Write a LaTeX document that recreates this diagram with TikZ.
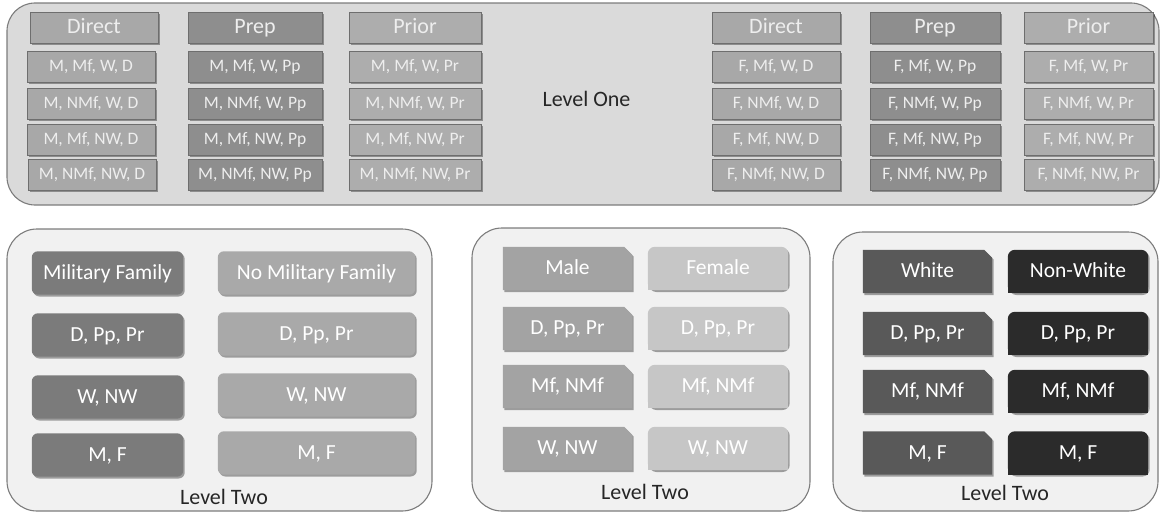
\documentclass[tikz,border=0pt]{standalone}
\usepackage{fontspec}
\setmainfont{Carlito}
\usetikzlibrary{shadows,backgrounds}
\pgfdeclarelayer{back}
\pgfsetlayers{back,background,main}
\definecolor{panTop}{HTML}{DADADA}
\definecolor{panBot}{HTML}{F1F1F1}
\definecolor{panLine}{HTML}{7C7C7C}
\definecolor{boxLine}{HTML}{6E6E6E}
\definecolor{topTxt}{HTML}{EEEEEE}
\definecolor{colD}{HTML}{A8A8A8}
\definecolor{colP}{HTML}{8E8E8E}
\definecolor{colR}{HTML}{ADADAD}
\definecolor{milA}{HTML}{7B7B7B}
\definecolor{milB}{HTML}{A9A9A9}
\definecolor{sexA}{HTML}{A3A3A3}
\definecolor{sexB}{HTML}{C6C6C6}
\definecolor{racA}{HTML}{595959}
\definecolor{racB}{HTML}{2B2B2B}
\tikzset{
  panel/.style={draw=panLine, line width=1.1pt, rounded corners=30pt},
  boxshadow/.style={drop shadow={shadow xshift=1.5pt, shadow yshift=-1.8pt, opacity=0.35, fill=black}},
  tbox/.style={draw=boxLine, line width=1pt, text=topTxt, inner sep=0pt, minimum height=31pt, boxshadow},
  hdr/.style={tbox, text height=14.5pt, text depth=2pt, font=\fontsize{22}{24}\selectfont},
  rowbox/.style={tbox, text height=11.5pt, text depth=1.5pt, font=\fontsize{17.5}{19}\selectfont},
  btxt/.style={inner sep=0pt, minimum height=43pt, text height=14pt, text depth=2pt, text=white, font=\fontsize{21.5}{24}\selectfont},
  lvl/.style={inner sep=0pt, text=black!85, font=\fontsize{22}{24}\selectfont}
}
\newcommand{\rndbox}[5]{%
  \node[btxt, minimum width=#3] (#1) at (#2) {#5};
  \begin{scope}[on background layer]
    \fill[#4, boxshadow, rounded corners=6pt] (#1.north west) rectangle (#1.south east);
  \end{scope}}
\newcommand{\snipbox}[5]{%
  \node[btxt, minimum width=#3] (#1) at (#2) {#5};
  \begin{scope}[on background layer]
    \fill[#4, boxshadow] (#1.north west) -- ([xshift=-8pt]#1.north east) -- ([yshift=-8pt]#1.north east) -- (#1.south east) -- (#1.south west) -- cycle;
  \end{scope}}
\newcommand{\toprbox}[5]{%
  \node[btxt, minimum width=#3] (#1) at (#2) {#5};
  \begin{scope}[on background layer]
    \fill[#4, boxshadow, rounded corners=7pt] (#1.north west) rectangle (#1.south east);
    \fill[#4] (#1.west) rectangle (#1.south east);
  \end{scope}}
\begin{document}
\begin{tikzpicture}[x=1pt,y=-1pt]
\useasboundingbox (0,0) rectangle (1161,514);
% panels
\begin{pgfonlayer}{back}
  \draw[panel, fill=panTop, rounded corners=28pt] (7,3) rectangle (1159,205);
  \draw[panel, fill=panBot] (7,229) rectangle (432,511);
  \draw[panel, fill=panBot] (472,228) rectangle (810,511);
  \draw[panel, fill=panBot] (833,232) rectangle (1158,511);
\end{pgfonlayer}
% Level One, left group
\node[hdr, fill=colD, minimum width=128pt] (dL) at (94,27.5) {Direct};
\node[hdr, fill=colP, minimum width=134pt] (pL) at (255,27.5) {Prep};
\node[hdr, fill=colR, minimum width=132pt] (rL) at (415,27.5) {Prior};
\node[rowbox, fill=colD, minimum width=128pt] (dL1) at (91,66.5) {M, Mf, W, D};
\node[rowbox, fill=colD, minimum width=128pt] (dL2) at (91,103.5) {M, NMf, W, D};
\node[rowbox, fill=colD, minimum width=128pt] (dL3) at (91,139.5) {M, Mf, NW, D};
\node[rowbox, fill=colD, minimum width=128pt] (dL4) at (92,174.5) {M, NMf, NW, D};
\node[rowbox, fill=colP, minimum width=134pt] (pL1) at (255,66.5) {M, Mf, W, Pp};
\node[rowbox, fill=colP, minimum width=134pt] (pL2) at (255,103.5) {M, NMf, W, Pp};
\node[rowbox, fill=colP, minimum width=134pt] (pL3) at (255,139.5) {M, Mf, NW, Pp};
\node[rowbox, fill=colP, minimum width=134pt] (pL4) at (255,174.5) {M, NMf, NW, Pp};
\node[rowbox, fill=colR, minimum width=132pt] (rL1) at (415,66.5) {M, Mf, W, Pr};
\node[rowbox, fill=colR, minimum width=132pt] (rL2) at (415,103.5) {M, NMf, W, Pr};
\node[rowbox, fill=colR, minimum width=132pt] (rL3) at (415,139.5) {M, Mf, NW, Pr};
\node[rowbox, fill=colR, minimum width=132pt] (rL4) at (415,174.5) {M, NMf, NW, Pr};
% Level One label
\node[lvl] (lvl1) at (586.5,99) {Level One};
% Level One, right group
\node[hdr, fill=colD, minimum width=128pt] (dR) at (776,27.5) {Direct};
\node[hdr, fill=colP, minimum width=130pt] (pR) at (935,27.5) {Prep};
\node[hdr, fill=colR, minimum width=129pt] (rR) at (1088.5,27.5) {Prior};
\node[rowbox, fill=colD, minimum width=128pt] (dR1) at (776,66.5) {F, Mf, W, D};
\node[rowbox, fill=colD, minimum width=128pt] (dR2) at (776,103.5) {F, NMf, W, D};
\node[rowbox, fill=colD, minimum width=128pt] (dR3) at (776,139.5) {F, Mf, NW, D};
\node[rowbox, fill=colD, minimum width=128pt] (dR4) at (776,174.5) {F, NMf, NW, D};
\node[rowbox, fill=colP, minimum width=130pt] (pR1) at (935,66.5) {F, Mf, W, Pp};
\node[rowbox, fill=colP, minimum width=130pt] (pR2) at (935,103.5) {F, NMf, W, Pp};
\node[rowbox, fill=colP, minimum width=130pt] (pR3) at (935,139.5) {F, Mf, NW, Pp};
\node[rowbox, fill=colP, minimum width=130pt] (pR4) at (935,174.5) {F, NMf, NW, Pp};
\node[rowbox, fill=colR, minimum width=129pt] (rR1) at (1088.5,66.5) {F, Mf, W, Pr};
\node[rowbox, fill=colR, minimum width=129pt] (rR2) at (1088.5,103.5) {F, NMf, W, Pr};
\node[rowbox, fill=colR, minimum width=129pt] (rR3) at (1088.5,139.5) {F, Mf, NW, Pr};
\node[rowbox, fill=colR, minimum width=129pt] (rR4) at (1088.5,174.5) {F, NMf, NW, Pr};
% Level Two: military family
\rndbox{mA0}{107.5,273}{151pt}{milA}{Military Family}
\rndbox{mB0}{316.5,273}{197pt}{milB}{No Military Family}
\rndbox{mA1}{107.5,335}{151pt}{milA}{D, Pp, Pr}
\rndbox{mB1}{316.5,334}{197pt}{milB}{D, Pp, Pr}
\rndbox{mA2}{107.5,397}{151pt}{milA}{W, NW}
\rndbox{mB2}{316.5,395}{197pt}{milB}{W, NW}
\rndbox{mA3}{107.5,455}{151pt}{milA}{M, F}
\rndbox{mB3}{316.5,453}{197pt}{milB}{M, F}
\node[lvl] (lvl2a) at (224,497) {Level Two};
% Level Two: sex
\snipbox{sA0}{567.5,268.5}{129pt}{sexA}{Male}
\toprbox{sB0}{718,268.5}{140pt}{sexB}{Female}
\snipbox{sA1}{567.5,328.5}{129pt}{sexA}{D, Pp, Pr}
\toprbox{sB1}{718,328.5}{140pt}{sexB}{D, Pp, Pr}
\snipbox{sA2}{567.5,386.5}{129pt}{sexA}{Mf, NMf}
\toprbox{sB2}{718,386.5}{140pt}{sexB}{Mf, NMf}
\snipbox{sA3}{567.5,448.5}{129pt}{sexA}{W, NW}
\toprbox{sB3}{718,448.5}{140pt}{sexB}{W, NW}
\node[lvl] (lvl2b) at (645,492) {Level Two};
% Level Two: race
\snipbox{wA0}{927.5,271.5}{129pt}{racA}{White}
\toprbox{wB0}{1078,271.5}{140pt}{racB}{Non-White}
\snipbox{wA1}{927.5,333.5}{129pt}{racA}{D, Pp, Pr}
\toprbox{wB1}{1078,333.5}{140pt}{racB}{D, Pp, Pr}
\snipbox{wA2}{927.5,391.5}{129pt}{racA}{Mf, NMf}
\toprbox{wB2}{1078,391.5}{140pt}{racB}{Mf, NMf}
\snipbox{wA3}{927.5,453}{129pt}{racA}{M, F}
\toprbox{wB3}{1078,453}{140pt}{racB}{M, F}
\node[lvl] (lvl2c) at (1005,493) {Level Two};
\end{tikzpicture}
\end{document}
